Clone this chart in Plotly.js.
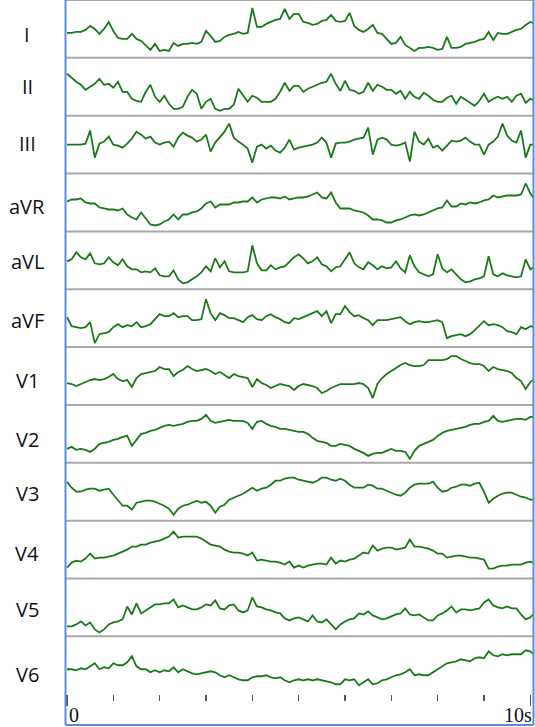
<!DOCTYPE html>
<html>
<head>
<meta charset="utf-8">
<script src="https://cdn.plot.ly/plotly-3.0.1.min.js"></script>
<style>html,body{margin:0;padding:0;background:#fff;}#chart{width:535px;height:727px;}</style>
</head>
<body>
<div id="chart"></div>
<script>
// Lead names (row labels, top to bottom)
const leadNames = ["I","II","III","aVR","aVL","aVF","V1","V2","V3","V4","V5","V6"];

// Sampled traces, one value every 0.1 s starting at 0 s (amplitude, arbitrary units)
const leadI = [-4,-4,-3,-3,-1,3,0,-5,0,7,-2,-9,-10,-10,-5,-10,-12,-17,-21,-15,-22,-21,-22,-14,-17,-15,-15,-14,-15,-13,-2,-7,-13,-12,-8,-6,-5,-3,-5,-4,21,2,2,5,7,9,10,20,10,15,15,7,6,4,5,8,9,14,8,7,8,16,3,-1,-3,0,4,-4,-5,-10,-15,-14,-8,-16,-19,-22,-19,-19,-18,-19,-21,-20,-8,-19,-19,-18,-15,-14,-13,-11,-10,-3,-11,-4,-5,-5,-3,-1,0,4,7,5];
const leadII = [13,9,5,2,-3,0,3,8,2,3,-1,5,-5,-5,-12,-14,-15,-5,2,-10,-15,-9,-17,-22,-22,-20,-10,-3,-7,-22,-15,-12,-22,-24,-22,-22,-18,-2,-9,-15,-9,-11,-15,-15,-15,-12,-5,4,-4,1,1,-5,-2,0,2,4,5,13,3,-4,6,-3,-4,-7,-5,4,-4,2,0,-3,-3,-7,-4,-12,-5,-10,-12,-6,-9,-13,-15,-15,-11,-9,-17,-10,-13,-16,-19,-14,-7,-15,-12,-10,-12,-10,-15,-9,-7,-16,-12,-14];
const leadIII = [0,0,0,0,1,14,-13,1,3,8,0,-1,-3,1,6,13,10,6,8,2,0,2,3,-2,7,12,9,7,3,5,10,-7,2,7,13,21,7,3,0,-4,-18,-2,0,-4,-1,-6,-8,-3,5,-5,-3,-2,-1,0,2,7,2,-13,1,2,2,3,5,6,7,17,-10,5,7,5,0,-1,0,2,-17,13,3,0,6,-3,-1,-6,-1,4,3,4,7,3,0,0,-10,0,3,8,21,9,4,2,14,-13,0,0];
const leadAVR = [1,3,3,4,0,-1,-1,-5,-6,-7,-7,-8,-6,-12,-15,-17,-10,-16,-22,-23,-22,-19,-17,-12,-17,-12,-12,-10,-9,-6,-1,1,-5,-2,-2,-2,0,0,1,1,5,0,3,4,5,5,4,6,3,4,5,5,6,8,10,5,4,10,0,-6,-6,-6,-8,-9,-10,-13,-17,-17,-18,-20,-20,-18,-17,-15,-13,-12,-13,-12,-10,-8,-6,-5,2,-4,-4,-1,-2,0,-1,0,2,3,7,5,6,7,7,7,8,19,9,3];
const leadAVL = [-1,1,8,3,1,7,-3,-4,-3,3,-2,-5,1,-6,-9,-9,-12,-11,-12,-8,-15,-16,-16,-10,-19,-23,-22,-19,-16,-12,-6,-11,2,-7,-1,-11,-12,-12,-12,-11,15,-3,-10,-10,-5,-9,-7,-6,-1,3,6,2,-3,-1,3,-4,-6,-11,-7,-6,1,8,-3,-7,-9,-2,-5,-9,-6,-8,-7,-1,-8,-12,5,-6,-12,-14,-16,-14,6,-8,-12,-9,-14,-19,-22,-21,-19,-18,-16,4,-14,-16,-13,-15,-16,-17,-16,1,-9,-6];
const leadAVF = [1,-8,-9,-10,-9,-4,-25,-16,-15,-14,-9,-6,-9,-7,-8,-4,-9,-8,-6,-1,4,2,2,5,1,2,2,-2,-2,-1,19,5,-2,5,3,0,0,-2,-4,1,3,-1,-2,2,4,1,-1,-4,-5,0,-1,1,3,5,7,2,7,-5,4,4,12,6,2,3,0,-2,-7,-2,-2,-2,-1,0,1,-3,-6,-4,-3,-4,-4,-3,-2,-4,-20,-18,-17,-16,-18,-16,-12,-7,-3,-7,-6,-7,-9,-13,-14,-16,-9,-11,-8,-9];
const leadV1 = [-7,-8,-10,-8,-6,-4,-3,-4,-3,-1,2,-3,-5,-4,-11,-2,2,3,4,5,9,7,7,0,4,6,10,7,5,6,7,5,2,4,1,-2,2,0,-1,-2,-11,-3,-7,-9,-12,-10,-8,-9,-10,-14,-10,-8,-9,-10,-12,-17,-15,-12,-10,-8,-8,-8,-8,-7,-8,-12,-22,-8,-2,2,5,8,11,13,11,10,10,11,16,16,16,16,17,20,20,17,15,13,12,12,10,5,9,7,6,5,3,-2,-5,-13,-6,-3];
const leadV2 = [-15,-13,-16,-15,-16,-18,-15,-10,-9,-8,-6,-5,-3,-2,-12,-6,0,1,3,4,6,8,9,8,9,10,12,13,13,15,19,13,11,12,13,14,13,13,13,11,5,12,13,10,8,7,5,5,4,3,2,2,0,-4,-7,-8,-9,-12,-12,-10,-11,-12,-15,-17,-19,-22,-20,-19,-19,-17,-15,-17,-17,-18,-25,-17,-12,-10,-8,-6,-2,1,3,4,5,6,7,9,10,10,12,13,18,13,12,13,14,15,15,14,17,17];
const leadV3 = [10,4,0,0,2,3,3,1,2,3,-3,-9,-14,-14,-18,-11,-10,-9,-9,-10,-12,-14,-17,-23,-17,-14,-13,-11,-9,-11,-10,-14,-21,-15,-13,-8,-6,-4,-2,1,4,1,3,4,7,11,11,13,14,14,12,11,10,9,11,14,14,12,11,13,11,7,4,4,4,7,6,3,3,1,-1,-3,-4,-1,4,7,8,8,8,10,4,0,1,4,5,7,7,6,8,9,0,-11,-7,-4,-2,-1,-1,-3,-5,-6,-8,-8];
const leadV4 = [-18,-13,-11,-12,-9,-4,-9,-8,-8,-7,-6,-4,-2,0,3,3,5,5,7,8,9,11,13,18,12,13,13,13,13,11,8,5,4,3,0,-2,-3,-3,-4,-6,-3,-11,-10,-11,-12,-12,-13,-15,-12,-18,-16,-18,-16,-15,-14,-14,-15,-8,-14,-11,-12,-10,-9,-6,-3,-4,4,-1,1,2,2,0,1,2,10,3,3,2,1,-1,-4,-4,-8,-7,-6,-6,-7,-8,-8,-9,-10,-19,-19,-17,-16,-16,-15,-15,-15,-13,-12,-14];
const leadV5 = [-19,-19,-17,-14,-18,-15,-22,-25,-22,-17,-15,-14,-12,1,-7,4,-6,-3,0,3,3,4,4,8,0,2,0,-2,-2,0,3,2,7,-1,-2,2,3,-3,-5,-3,10,1,0,-2,-3,-5,-6,-11,-13,-11,-10,-12,-14,-8,-14,-15,-12,-17,-22,-17,-14,-12,-11,-6,-7,-4,-8,-10,-12,-11,-9,-7,-6,-1,-7,-8,-7,-10,-13,-13,-8,-6,-3,1,-5,-2,-2,-3,-2,-1,5,8,2,0,-1,1,-1,-1,-7,-12,-10,-5];
const leadV6 = [-4,-4,-5,-3,-4,-1,2,-4,-2,-3,2,0,0,3,9,-1,-4,-4,-7,-5,-7,-5,-6,-2,-7,-4,-6,-8,-9,-8,-7,-6,-7,-10,-12,-10,-12,-14,-15,-15,-12,-11,-11,-10,-12,-13,-12,-15,-17,-15,-14,-15,-14,-15,-14,-15,-16,-17,-19,-19,-14,-15,-14,-20,-17,-14,-19,-18,-15,-14,-12,-10,-9,-7,-4,-10,-9,-10,-10,-7,-4,-1,2,3,4,6,5,4,7,8,7,14,10,9,11,10,11,11,11,15,14,10];

// Time axis labels
const timeTickVals = [0, 10];
const timeTickText = ["0", "10s"];
const minorTickVals = [1,2,3,4,5,6,7,8,9];

const leads = [leadI, leadII, leadIII, leadAVR, leadAVL, leadAVF, leadV1, leadV2, leadV3, leadV4, leadV5, leadV6];

// ---- layout geometry (pixels) ----
const W = 535, H = 727;
const plotLeft = 66, plotRight = 533;
const rowH = 57.85;
const halfRange = rowH / 2;
const labelX = 27;
const labelY = [34.5, 86.5, 143.8, 206.5, 261, 320.5, 381, 439.5, 494, 553.5, 609, 674.5];
const pxToPaperX = px => px / W;
const pxToPaperY = py => 1 - py / H;

const traces = [];
const layout = {
  width: W, height: H,
  margin: {l: 0, r: 0, t: 0, b: 0, pad: 0},
  paper_bgcolor: "#ffffff",
  plot_bgcolor: "rgba(0,0,0,0)",
  showlegend: false,
  xaxis: {
    domain: [pxToPaperX(plotLeft), pxToPaperX(plotRight)],
    range: [-0.0216, 10.058],
    anchor: "y12",
    showgrid: false, zeroline: false, showline: false,
    tickmode: "array", tickvals: timeTickVals, ticktext: ["", ""],
    ticks: "outside", ticklen: 11, tickwidth: 1.6, tickcolor: "#555555",
    minor: {tickmode: "array", tickvals: minorTickVals, ticks: "outside", ticklen: 6, tickwidth: 1.6, tickcolor: "#555555", showgrid: false},
    fixedrange: true
  },
  shapes: [],
  annotations: []
};

leads.forEach((vals, k) => {
  const n = k + 1;
  const yname = n === 1 ? "yaxis" : "yaxis" + n;
  const yref = n === 1 ? "y" : "y" + n;
  const topPx = rowH * k, botPx = rowH * (k + 1);
  layout[yname] = {
    domain: [pxToPaperY(botPx), pxToPaperY(topPx)],
    range: [-halfRange, halfRange],
    anchor: "x",
    visible: false,
    fixedrange: true
  };
  traces.push({
    type: "scatter", mode: "lines",
    x0: 0, dx: 0.1, y: vals,
    xaxis: "x", yaxis: yref,
    line: {color: "#1a7a1a", width: 1.8},
    hoverinfo: "skip"
  });
  layout.annotations.push({
    xref: "paper", yref: "paper",
    x: pxToPaperX(labelX), y: pxToPaperY(labelY[k]),
    xanchor: "center", yanchor: "middle",
    text: leadNames[k], showarrow: false,
    font: {family: "Open Sans, Noto Sans, sans-serif", size: 20, color: "#111111"}
  });
  // gray separator at top of each row
  layout.shapes.push({
    type: "line", xref: "paper", yref: "paper",
    x0: pxToPaperX(plotLeft), x1: pxToPaperX(plotRight),
    y0: pxToPaperY(topPx), y1: pxToPaperY(topPx),
    line: {color: "#a8a8a8", width: 2}
  });
});

// blue frame (left, right, bottom)
const frameColor = "#5a8fd8";
layout.shapes.push(
  {type: "line", xref: "paper", yref: "paper", x0: pxToPaperX(65.5), x1: pxToPaperX(65.5), y0: 1, y1: pxToPaperY(725), line: {color: frameColor, width: 2}},
  {type: "line", xref: "paper", yref: "paper", x0: pxToPaperX(533.5), x1: pxToPaperX(533.5), y0: 1, y1: pxToPaperY(725), line: {color: frameColor, width: 2}},
  {type: "line", xref: "paper", yref: "paper", x0: pxToPaperX(65.5), x1: pxToPaperX(533.5), y0: pxToPaperY(725), y1: pxToPaperY(725), line: {color: frameColor, width: 2}}
);

// time labels placed beside their ticks
layout.annotations.push(
  {xref: "x", yref: "paper", x: timeTickVals[0], y: pxToPaperY(715), xanchor: "left", yanchor: "middle", xshift: 0,
   text: timeTickText[0], showarrow: false, font: {family: "Liberation Serif, Times New Roman, serif", size: 20, color: "#111111"}},
  {xref: "x", yref: "paper", x: timeTickVals[1], y: pxToPaperY(715), xanchor: "right", yanchor: "middle", xshift: 4,
   text: timeTickText[1], showarrow: false, font: {family: "Liberation Serif, Times New Roman, serif", size: 20, color: "#111111"}}
);

Plotly.newPlot("chart", traces, layout, {staticPlot: true, displayModeBar: false});
</script>
</body>
</html>
